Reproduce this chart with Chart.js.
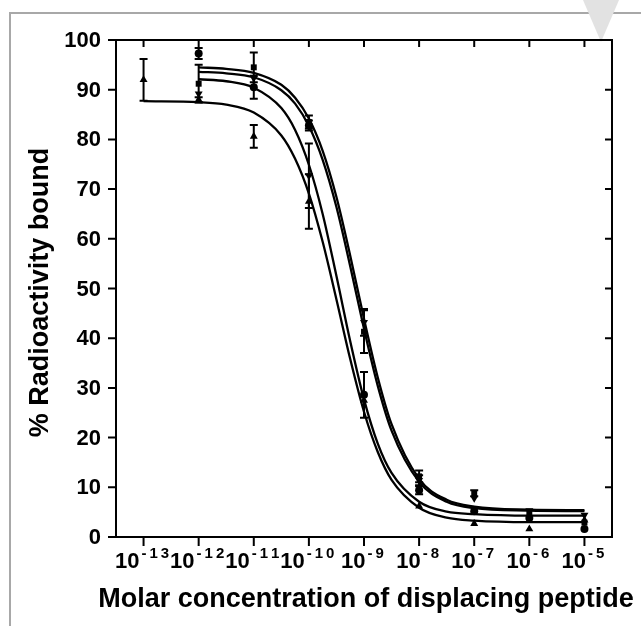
<!DOCTYPE html>
<html>
<head>
<script src="https://cdn.jsdelivr.net/npm/chart.js@4/dist/chart.umd.min.js"></script>
<style>
  body { margin: 0; background: #fff; }
  #wrap { position: relative; width: 641px; height: 626px; overflow: hidden; }
  #frame { position: absolute; left: 9px; top: 12px; width: 700px; height: 700px;
           border-top: 2px solid #a8a8a8; border-left: 2px solid #a8a8a8; }
  #tri { position: absolute; left: 583px; top: 0; width: 0; height: 0;
         border-left: 18px solid transparent; border-right: 18px solid transparent;
         border-top: 42px solid #e2e2e2; }
  canvas { position: absolute; left: 0; top: 0; }
</style>
</head>
<body>
<div id="wrap">
  <div id="frame"></div>
  <div id="tri"></div>
  <canvas id="chart" width="641" height="626"></canvas>
</div>
<script>
// molar concentrations (x) and their exponent labels
const conc = [1e-13, 1e-12, 1e-11, 1e-10, 1e-9, 1e-8, 1e-7, 1e-6, 1e-5];
const tickExp = ['-13', '-12', '-11', '-10', '-9', '-8', '-7', '-6', '-5'];
const yTicks = [0, 10, 20, 30, 40, 50, 60, 70, 80, 90, 100];

// measured points (% bound) and SEM
const circleY   = [null, 97.3, 90.5, 82.8, 28.6, 9.4, 5.2, 3.8, 1.6];
const circleErr = [0, 1.1, 2.3, 1.0, 4.6, 0.8, 0, 0, 0];
const squareY   = [null, 91.2, 94.5, 83.5, 41.3, 12.2, 8.8, 4.8, 2.9];
const squareErr = [0, 3.8, 3.0, 1.3, 4.3, 1.2, 0.6, 0, 0];
const triUpY    = [92.0, 88.0, 80.6, 67.5, 27.5, 6.2, 2.7, 1.6, 3.4];
const triUpErr  = [4.2, 0.5, 2.3, 5.5, 0, 0, 0, 0, 0];
const triDnY    = [null, 89.2, 92.3, 72.7, 43.2, 11.4, 7.8, 5.3, 4.4];
const triDnErr  = [0, 0, 0, 6.5, 2.7, 1.0, 0, 0, 0];

// fitted curves at these log concentrations
const fitExp = [-13, -12, -11.5, -11, -10.5, -10.25, -10, -9.75, -9.5, -9.25, -9, -8.75, -8.5, -8, -7.5, -7, -6, -5];
const fitA = [87.7, 87.5, 87.0, 85.4, 80.8, 76.1, 69.1, 59.4, 47.8, 35.8, 25.2, 17.1, 11.5, 5.9, 3.9, 3.3, 3.0, 3.0];
const fitB = [null, 92.1, 91.7, 90.4, 86.3, 81.9, 74.9, 65.0, 52.5, 39.4, 27.7, 18.8, 12.9, 7.1, 5.1, 4.6, 4.3, 4.3];
const fitC = [null, 94.5, 94.2, 93.4, 91.0, 88.4, 84.2, 77.7, 68.4, 56.6, 43.9, 32.1, 22.7, 11.7, 7.5, 6.1, 5.5, 5.4];
const fitD = [null, 93.6, 93.3, 92.5, 89.9, 87.2, 82.7, 75.9, 66.4, 54.5, 41.9, 30.4, 21.4, 11.1, 7.1, 5.8, 5.3, 5.2];

const FONT = '"Liberation Sans", Arial, sans-serif';

function pts(xs, ys) {
  return xs.map((x, i) => ({x: x, y: ys[i]})).filter(p => p.y !== null);
}
function curve(ys) {
  return {
    type: 'line', data: pts(fitExp.map(e => Math.pow(10, e)), ys),
    borderColor: '#000', borderWidth: 2.3, pointRadius: 0,
    cubicInterpolationMode: 'monotone', fill: false
  };
}
function markers(ys, errs, style, rot, r) {
  return {
    type: 'line', showLine: false, data: pts(conc, ys), err: errs.filter((e, i) => ys[i] !== null),
    pointStyle: style, rotation: rot, pointRadius: r,
    backgroundColor: '#000', borderColor: '#000', borderWidth: 0
  };
}

const errorBars = {
  id: 'errorBars',
  afterDatasetsDraw(chart) {
    const ctx = chart.ctx, y = chart.scales.y;
    ctx.save();
    ctx.strokeStyle = '#000';
    ctx.lineWidth = 2;
    chart.data.datasets.forEach((ds, di) => {
      if (!ds.err) return;
      chart.getDatasetMeta(di).data.forEach((pt, j) => {
        const e = ds.err[j];
        if (!e) return;
        const v = ds.data[j].y;
        const top = y.getPixelForValue(v + e), bot = y.getPixelForValue(v - e);
        ctx.beginPath();
        ctx.moveTo(pt.x, top); ctx.lineTo(pt.x, bot);
        ctx.moveTo(pt.x - 4, top); ctx.lineTo(pt.x + 4, top);
        ctx.moveTo(pt.x - 4, bot); ctx.lineTo(pt.x + 4, bot);
        ctx.stroke();
      });
    });
    ctx.restore();
  }
};

const axesBox = {
  id: 'axesBox',
  afterDraw(chart) {
    const ctx = chart.ctx, a = chart.chartArea, x = chart.scales.x, y = chart.scales.y;
    ctx.save();
    ctx.strokeStyle = '#000';
    ctx.lineWidth = 2;
    ctx.strokeRect(a.left, a.top, a.right - a.left, a.bottom - a.top);
    ctx.beginPath();
    conc.forEach(v => {
      const px = x.getPixelForValue(v);
      ctx.moveTo(px, a.bottom); ctx.lineTo(px, a.bottom + 9);
      ctx.moveTo(px, a.top); ctx.lineTo(px, a.top + 7);
    });
    yTicks.forEach(v => {
      const py = y.getPixelForValue(v);
      ctx.moveTo(a.left - 8, py); ctx.lineTo(a.left, py);
      ctx.moveTo(a.right - 7, py); ctx.lineTo(a.right, py);
    });
    ctx.stroke();

    ctx.fillStyle = '#000';
    // y tick labels
    ctx.font = 'bold 22px ' + FONT;
    ctx.textAlign = 'right';
    ctx.textBaseline = 'middle';
    yTicks.forEach(v => ctx.fillText(String(v), a.left - 15, y.getPixelForValue(v) + 1));

    // x tick labels: 10 with raised, spaced exponent
    ctx.textAlign = 'left';
    ctx.textBaseline = 'alphabetic';
    conc.forEach((v, i) => {
      const px = x.getPixelForValue(v);
      ctx.font = 'bold 22px ' + FONT;
      const wBase = ctx.measureText('10').width;
      ctx.font = 'bold 15px ' + FONT;
      const chars = tickExp[i].split('');
      const gap = 3;
      let wExp = 0;
      chars.forEach(c => { wExp += ctx.measureText(c).width + gap; });
      let cx = px - (wBase + 2 + wExp) / 2;
      ctx.font = 'bold 22px ' + FONT;
      ctx.fillText('10', cx, a.bottom + 31);
      cx += wBase + 2;
      ctx.font = 'bold 15px ' + FONT;
      chars.forEach(c => { ctx.fillText(c, cx, a.bottom + 21); cx += ctx.measureText(c).width + gap; });
    });

    // axis titles
    ctx.font = 'bold 27px ' + FONT;
    ctx.textAlign = 'center';
    ctx.fillText('Molar concentration of displacing peptide', (a.left + a.right) / 2 + 2, a.bottom + 70);
    ctx.translate(48, (a.top + a.bottom) / 2 + 4);
    ctx.rotate(-Math.PI / 2);
    ctx.fillText('% Radioactivity bound', 0, 0);
    ctx.restore();
  }
};

new Chart('chart', {
  data: {
    datasets: [
      curve(fitA), curve(fitB), curve(fitC), curve(fitD),
      markers(circleY, circleErr, 'circle', 0, 4),
      markers(squareY, squareErr, 'rect', 0, 4.2),
      markers(triUpY, triUpErr, 'triangle', 0, 4.6),
      markers(triDnY, triDnErr, 'triangle', 180, 4.6)
    ]
  },
  options: {
    responsive: false,
    animation: false,
    layout: { padding: { left: 116, top: 40, right: 29, bottom: 89 } },
    plugins: { legend: { display: false }, tooltip: { enabled: false } },
    scales: {
      x: { type: 'logarithmic', display: false, min: Math.pow(10, -13.5), max: Math.pow(10, -4.5) },
      y: { type: 'linear', display: false, min: 0, max: 100 }
    }
  },
  plugins: [errorBars, axesBox]
});
</script>
</body>
</html>
